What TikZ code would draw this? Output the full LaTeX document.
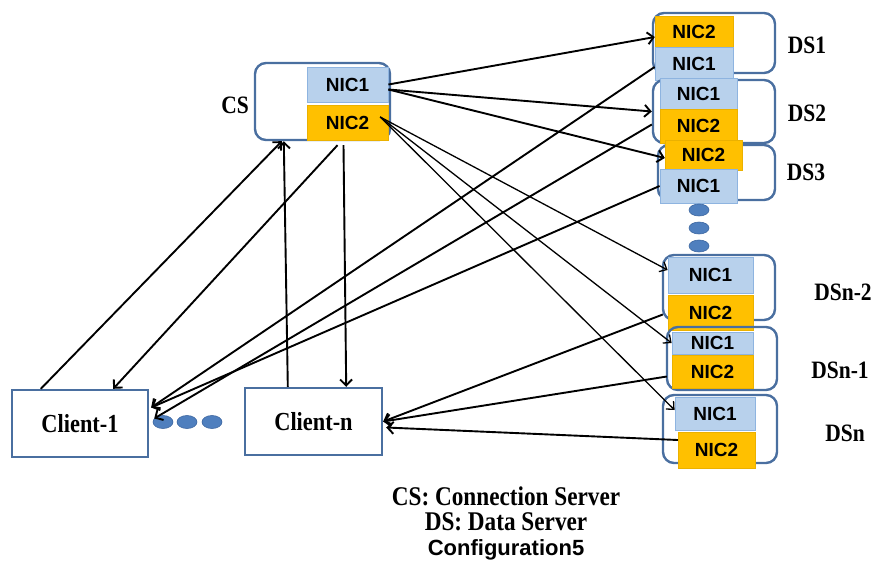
\documentclass[tikz,border=0pt]{standalone}
\usepackage{fontspec}
\setmainfont{Liberation Serif}
\newfontfamily\arialfont{Liberation Sans}
\newfontfamily\tallserif{Liberation Serif}[FakeStretch=0.86]
\usetikzlibrary{arrows.meta,shapes.geometric}
\definecolor{boxblue}{HTML}{4A6FA0}
\definecolor{nicblue}{HTML}{B8D1EC}
\definecolor{nicedge}{HTML}{8EB4E0}
\definecolor{nicorange}{HTML}{FFC000}
\definecolor{dotblue}{HTML}{4F7FBE}
\definecolor{dotedge}{HTML}{3C66A0}
\begin{document}
\begin{tikzpicture}[x=1pt,y=-1pt,
  outerbox/.style={draw=boxblue, line width=2.4pt, rounded corners=11pt, inner sep=0pt},
  clientbox/.style={draw=boxblue, line width=2.4pt, inner sep=0pt, minimum width=136pt, minimum height=67pt, font=\tallserif\fontsize{26}{28}\selectfont\bfseries},
  nicone/.style={fill=nicblue, draw=nicedge, line width=0.8pt, inner sep=0pt, font=\arialfont\fontsize{19}{21}\selectfont\bfseries},
  nictwo/.style={fill=nicorange, draw=nicorange!92!black, line width=0.4pt, inner sep=0pt, font=\arialfont\fontsize{19}{21}\selectfont\bfseries},
  lbl/.style={inner sep=0pt, font=\tallserif\fontsize{25}{27}\selectfont\bfseries},
  legend/.style={inner sep=0pt, font=\tallserif\fontsize{27}{29}\selectfont\bfseries},
  dotnode/.style={ellipse, fill=dotblue, draw=dotedge, line width=0.6pt, inner sep=0pt, minimum width=20pt, minimum height=12pt},
  arr/.style={line width=1.9pt, -{Straight Barb[length=6pt,width=12pt]}},
  thinarr/.style={line width=1.3pt, -{Straight Barb[length=6pt,width=11pt]}}
]
\useasboundingbox (0,0) rectangle (883,563);

% ---------------- CS ----------------
\node[outerbox, minimum width=135pt, minimum height=77pt] (cs) at (322.5,101.5) {};
\node[nicone, minimum width=81pt, minimum height=35pt] (csn1) at (347.5,84.5) {NIC1};
\node[nictwo, minimum width=81pt, minimum height=35pt] (csn2) at (347.5,122.5) {NIC2};
\node[lbl] (lcs) at (235,105) {CS};

% ---------------- DS1 ----------------
\node[outerbox, minimum width=122pt, minimum height=60pt] (ds1) at (714,43) {};
\node[nictwo, minimum width=78pt, minimum height=31pt] (ds1n2) at (694,31.5) {NIC2};
\node[nicone, minimum width=78pt, minimum height=33pt] (ds1n1) at (694,63.5) {NIC1};
\node[lbl] (lds1) at (807,45) {DS1};

% ---------------- DS2 ----------------
\node[outerbox, minimum width=122pt, minimum height=63pt] (ds2) at (714,111.5) {};
\node[nicone, minimum width=77pt, minimum height=31pt] (ds2n1) at (698.5,93.5) {NIC1};
\node[nictwo, minimum width=77pt, minimum height=34pt] (ds2n2) at (698.5,126) {NIC2};
\node[lbl] (lds2) at (807,113) {DS2};

% ---------------- DS3 ----------------
\node[outerbox, minimum width=117pt, minimum height=55pt] (ds3) at (716.5,172.5) {};
\node[nictwo, minimum width=77pt, minimum height=30pt] (ds3n2) at (703.5,155) {NIC2};
\node[nicone, minimum width=77pt, minimum height=34pt] (ds3n1) at (698.5,186) {NIC1};
\node[lbl] (lds3) at (806,172) {DS3};

% dots
\node[dotnode] (vd1) at (699,210) {};
\node[dotnode] (vd2) at (699,228) {};
\node[dotnode] (vd3) at (699,246) {};

% ---------------- DSn-2 ----------------
\node[outerbox, minimum width=112pt, minimum height=65pt] (dsa) at (719,287.5) {};
\node[nicone, minimum width=85pt, minimum height=36pt] (dsan1) at (710.5,275) {NIC1};
\node[nictwo, minimum width=85pt, minimum height=35pt] (dsan2) at (710.5,312.5) {NIC2};
\node[lbl] (ldsa) at (843,292) {DSn-2};

% ---------------- DSn-1 ----------------
\node[outerbox, minimum width=110pt, minimum height=63pt] (dsb) at (722,358.5) {};
\node[nicone, minimum width=81pt, minimum height=22pt] (dsbn1) at (712.5,343) {NIC1};
\node[nictwo, minimum width=81pt, minimum height=33pt] (dsbn2) at (712.5,371.5) {NIC2};
\node[lbl] (ldsb) at (840,370) {DSn-1};

% ---------------- DSn ----------------
\node[outerbox, minimum width=114pt, minimum height=68pt] (dsc) at (720,429) {};
\node[nicone, minimum width=80pt, minimum height=33pt] (dscn1) at (715,413.5) {NIC1};
\node[nictwo, minimum width=77pt, minimum height=36pt] (dscn2) at (716.5,450) {NIC2};
\node[lbl] (ldsc) at (845,433) {DSn};

% ---------------- Clients ----------------
\node[clientbox] (cl1) at (80,423.5) {Client-1};
\node[clientbox, minimum width=137pt] (cln) at (313.5,421.5) {Client-n};
\node[dotnode, minimum height=13pt] (hd1) at (163,422) {};
\node[dotnode, minimum height=13pt] (hd2) at (187,422) {};
\node[dotnode, minimum height=13pt] (hd3) at (212,422) {};

% ---------------- legend ----------------
\node[legend] (leg1) at (506,496) {CS: Connection Server};
\node[legend] (leg2) at (506,522) {DS: Data Server};
\node[inner sep=0pt, font=\arialfont\fontsize{22}{24}\selectfont\bfseries] (leg3) at (506,550) {Configuration5};

% ---------------- connectors ----------------
% CS NIC1 -> DS NIC2
\draw[arr] (csn1.east) -- ([yshift=-5.5pt]ds1n2.west);
\draw[arr] ([yshift=-5pt]csn1.east) -- (ds2.west);
\draw[arr] ([yshift=-5pt]csn1.east) -- ([yshift=-3pt]ds3n2.west);
% CS NIC2 -> DSn NIC1
\draw[thinarr] ([shift={(-8pt,5.5pt)}]csn2.east) -- ([yshift=5pt]dsan1.west);
\draw[thinarr] ([shift={(-8pt,5.5pt)}]csn2.east) -- (dsbn1.west);
\draw[thinarr] ([shift={(-8pt,5.5pt)}]csn2.east) -- ([yshift=3.5pt]dscn1.west);
% clients -> CS
\draw[arr] ([xshift=30pt]cl1.north west) -- ([xshift=28pt]cs.south west);
\draw[arr] ([xshift=44pt]cln.north west) -- ([xshift=30pt]cs.south west);
% CS NIC2 -> clients
\draw[arr] ([shift={(-10pt,-5pt)}]csn2.south) -- ([xshift=-36pt]cl1.north east);
\draw[arr] ([shift={(-4pt,-5pt)}]csn2.south) -- ([xshift=-37pt]cln.north east);
% DS1..DS3 -> Client-1
\draw[arr] ([yshift=-3.5pt]ds1n1.west) -- ([shift={(2pt,16pt)}]cl1.east);
\draw[arr] ([yshift=-13pt]ds2.west) -- ([shift={(5pt,5pt)}]cl1.east);
\draw[arr] (ds3n1.west) -- ([shift={(2pt,16pt)}]cl1.east);
% DSn-2..DSn -> Client-n
\draw[arr] ([xshift=-5pt,yshift=-2pt]dsan2.west) -- (cln.east);
\draw[arr] ([xshift=-5pt,yshift=-5pt]dsbn2.west) -- (cln.east);
\draw[arr] ([yshift=10pt]dscn2.west) -- ([shift={(3pt,-6pt)}]cln.east);
\end{tikzpicture}
\end{document}
